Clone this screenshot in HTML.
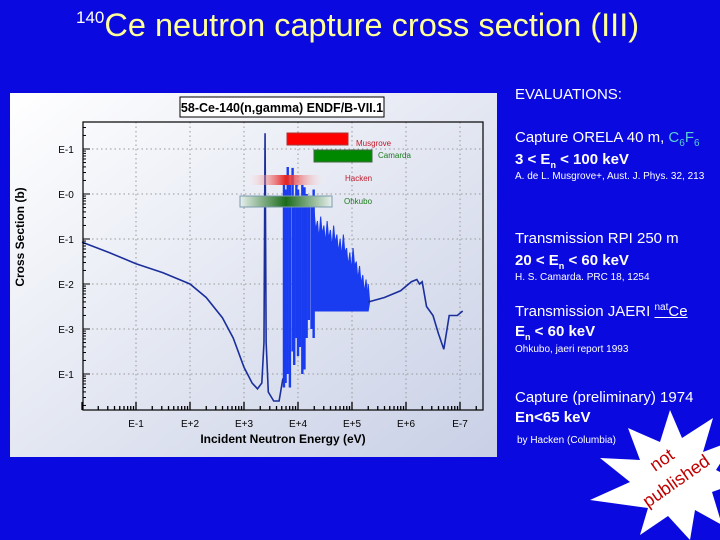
<!DOCTYPE html>
<html><head><meta charset="utf-8">
<style>
body{margin:0;width:720px;height:540px;overflow:hidden;background:#0a0ae0;font-family:"Liberation Sans",sans-serif;position:relative}
.t{position:absolute;color:#fff;white-space:nowrap}
.h{font-size:15px}.b{font-size:15px;font-weight:bold}.s{font-size:10px}
</style></head><body>
<div class="t" style="left:76px;top:7px;font-size:32.5px;color:#ffff99"><sup style="font-size:17px;color:#fff;vertical-align:13px">140</sup>Ce neutron capture cross section (III)</div>
<svg id="c" width="720" height="540" style="position:absolute;left:0;top:0">
<defs>
<linearGradient id="bg" x1="0" y1="0" x2="1" y2="1"><stop offset="0" stop-color="#ffffff"/><stop offset="1" stop-color="#c9d0e6"/></linearGradient>
<linearGradient id="hr" x1="0" x2="1"><stop offset="0" stop-color="#fff" stop-opacity="0"/><stop offset=".5" stop-color="#e52020"/><stop offset="1" stop-color="#fff" stop-opacity="0"/></linearGradient>
<linearGradient id="og" x1="0" x2="1"><stop offset="0" stop-color="#e8f0ee"/><stop offset=".5" stop-color="#1b6b1b"/><stop offset="1" stop-color="#e8f0ee"/></linearGradient>
</defs>
<rect x="10" y="93" width="487" height="364" fill="url(#bg)"/>
<rect x="180" y="97" width="204" height="20" fill="#fff" stroke="#000"/>
<text x="282" y="112" font-size="12.5" font-weight="bold" text-anchor="middle">58-Ce-140(n,gamma) ENDF/B-VII.1</text>
<g id="grid"></g><g id="marks"></g><g id="axes"></g>
<text x="283" y="443" font-size="12" font-weight="bold" text-anchor="middle">Incident Neutron Energy (eV)</text>
<text transform="translate(24,237) rotate(-90)" font-size="12" font-weight="bold" text-anchor="middle">Cross Section (b)</text>
<rect x="287" y="133" width="61" height="12" fill="#f00" stroke="#a33"/>
<text x="356" y="146" font-size="8" fill="#c0182a">Musgrove</text>
<rect x="314" y="150" width="58" height="12" fill="#080" stroke="#464"/>
<text x="378" y="158" font-size="8" fill="#1a7a1a">Camarda</text>
<rect x="245" y="175" width="82" height="10" fill="url(#hr)"/>
<text x="345" y="181" font-size="8" fill="#c0182a">Hacken</text>
<rect x="240" y="196" width="92" height="11" fill="url(#og)" stroke="#7a9ab0"/>
<text x="344" y="204" font-size="8" fill="#1a7a1a">Ohkubo</text>
<polygon fill="#fff" points="713,418 703,452 735,440 716,470 740,482 712,492 722,525 695,510 690,540 668,516 640,535 648,508 590,500 630,482 600,458 640,460 628,428 660,442 670,410 682,438"/>
<text transform="translate(655,472) rotate(-35)" font-size="18" fill="#c00000">not</text>
<text transform="translate(648,508) rotate(-35)" font-size="18" fill="#c00000">published</text>
</svg>
<div class="t h" style="left:515px;top:86px">EVALUATIONS:</div>
<div class="t h" style="left:515px;top:129px">Capture ORELA 40 m, <span style="color:#5ad0d0">C<sub style="font-size:10px">6</sub>F<sub style="font-size:10px">6</sub></span></div>
<div class="t b" style="left:515px;top:151px">3 &lt; E<sub style="font-size:9px">n</sub> &lt; 100 keV</div>
<div class="t s" style="left:515px;top:171px">A. de L. Musgrove+, Aust. J. Phys. 32, 213</div>
<div class="t h" style="left:515px;top:230px">Transmission RPI 250 m</div>
<div class="t b" style="left:515px;top:252px">20 &lt; E<sub style="font-size:9px">n</sub> &lt; 60 keV</div>
<div class="t s" style="left:515px;top:272px">H. S. Camarda. PRC 18, 1254</div>
<div class="t h" style="left:515px;top:302px">Transmission JAERI <u><sup style="font-size:10px">nat</sup>Ce</u></div>
<div class="t b" style="left:515px;top:323px">E<sub style="font-size:9px">n</sub> &lt; 60 keV</div>
<div class="t s" style="left:515px;top:344px">Ohkubo, jaeri report 1993</div>
<div class="t h" style="left:515px;top:389px">Capture (preliminary) 1974</div>
<div class="t b" style="left:515px;top:409px">En&lt;65 keV</div>
<div class="t s" style="left:517px;top:435px">by Hacken (Columbia)</div>
<script>
const xTicks=[1,2,3,4,5,6,7];
const xTickLabels=["E-1","E+2","E+3","E+4","E+5","E+6","E-7"];
const yTicks=[1,0,-1,-2,-3,-4];
const yTickLabels=["E-1","E-0","E-1","E-2","E-3","E-1"];
// smooth curve: log10 E, log10 sigma
const curveLogE=[0,0.5,1,1.5,2,2.3,2.6,2.8,3.0,3.15,3.25,3.33,3.37,3.39,3.41,3.45,3.55,3.65,3.72];
const curveLogS=[-1.07,-1.3,-1.55,-1.75,-2.0,-2.3,-2.75,-3.2,-3.85,-4.2,-4.33,-4.2,-3.3,1.35,-3.3,-4.4,-4.6,-4.6,-4.1];
const resLogE=[3.74,3.77,3.81,3.85,3.9,3.93,3.97,4.0,4.04,4.08,4.12,4.16,4.2,4.25,4.29];
const resLogS=[0.2,0.1,0.6,0.2,0.58,-0.2,0.2,0.1,-0.3,0.2,0.15,0.0,-0.1,-0.3,0.1];
const resLogMin=[-4.3,-4.2,-4.0,-4.3,-3.5,-3.8,-3.2,-3.6,-3.4,-4.0,-3.9,-3.2,-2.8,-3.0,-3.2];
const bandLogE=[4.3,4.36,4.42,4.48,4.54,4.6,4.66,4.72,4.78,4.84,4.9,4.96,5.02,5.08,5.14,5.2,5.26,5.3];
const bandTop=[-0.4,-0.6,-0.5,-0.7,-0.6,-0.8,-0.7,-0.9,-1.0,-0.9,-1.2,-1.3,-1.2,-1.5,-1.6,-1.8,-1.9,-2.0];
const bandBottom=-2.6;
const tailLogE=[5.3,5.6,5.9,6.1,6.2,6.25,6.3,6.38,6.5,6.6,6.7,6.8,6.95,7.05];
const tailLogS=[-2.4,-2.3,-2.15,-1.95,-1.9,-2.0,-1.95,-2.5,-2.7,-3.1,-3.45,-2.7,-2.7,-2.6];
const NS='http://www.w3.org/2000/svg';
const X=v=>82+v*54, Y=v=>194-v*45;
function mk(t,a,p){const e=document.createElementNS(NS,t);for(const k in a)e.setAttribute(k,a[k]);p.appendChild(e);return e;}
const g=document.getElementById('grid'),m=document.getElementById('marks'),ax=document.getElementById('axes');
xTicks.forEach((v,i)=>{const l=mk('line',{x1:X(v),x2:X(v),y1:122,y2:410,stroke:'#999','stroke-dasharray':'1.5,3'},g);

const t=mk('text',{x:X(v),y:427,'font-size':10,'text-anchor':'middle'},ax);t.textContent=xTickLabels[i];
});
yTicks.forEach((v,i)=>{const l=mk('line',{x1:83,x2:483,y1:Y(v),y2:Y(v),stroke:'#999','stroke-dasharray':'1.5,3'},g);

const t=mk('text',{x:66,y:Y(v)+4,'font-size':10,'text-anchor':'middle'},ax);t.textContent=yTickLabels[i];
});
for(let d=0;d<8;d++)for(let k=1;k<10;k++){const v=d+Math.log10(k);if(v>7.4)break;
mk('line',{x1:X(v),x2:X(v),y1:410,y2:k==1?402:406,stroke:'#000','stroke-width':1.3},ax);}
for(let d=-5;d<2;d++)for(let k=1;k<10;k++){const v=d+Math.log10(k);const y=Y(v);if(y<122||y>410)continue;
mk('line',{x1:83,x2:k==1?90:86,y1:y,y2:y,stroke:'#000'},ax);}
const fr=mk('rect',{x:83,y:122,width:400,height:288,fill:'none',stroke:'#000','stroke-width':1.2},ax);

let band='M'+X(bandLogE[0])+','+Y(bandBottom);
bandLogE.forEach((e,i)=>{band+=' L'+X(e)+','+Y(bandTop[i])+' L'+(X(e)+1.5)+','+Y(bandTop[i]-0.4);});
band+=' L'+X(bandLogE[bandLogE.length-1])+','+Y(bandBottom)+'Z';
const bp=mk('path',{d:band,fill:'#1a3cf0',stroke:'#1a3cf0'},m);

resLogE.forEach((e,i)=>{const r=mk('rect',{x:X(e)-1.2,y:Y(resLogS[i]),width:2.4,height:Y(resLogMin[i])-Y(resLogS[i]),fill:'#1a3cf0'},m);
});
const c1=mk('path',{d:curveLogE.map((e,i)=>(i?'L':'M')+X(e)+','+Y(curveLogS[i])).join(' '),fill:'none',stroke:'#1b2f9c','stroke-width':1.6},m);

const c2=mk('path',{d:tailLogE.map((e,i)=>(i?'L':'M')+X(e)+','+Y(tailLogS[i])).join(' '),fill:'none',stroke:'#1b2f9c','stroke-width':1.6},m);

</script>
</body></html>
